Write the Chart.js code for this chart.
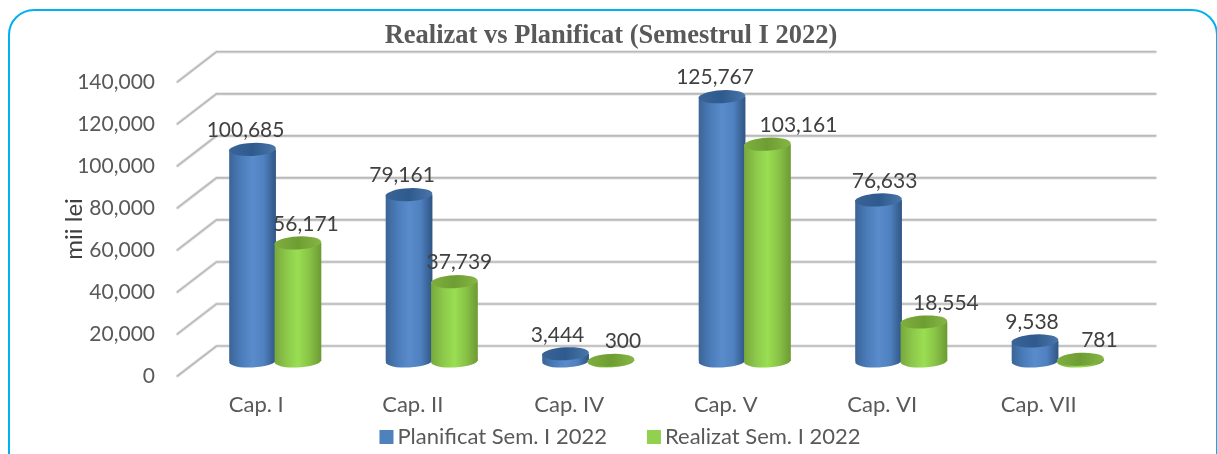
<!DOCTYPE html>
<html><head><meta charset="utf-8">
<style>
html,body{margin:0;padding:0;background:#fff;width:1217px;height:454px;overflow:hidden}
#frame{position:absolute;left:8px;top:9px;width:1206px;height:470px;border:2px solid #00b0f0;border-radius:26px}
#wrap{position:absolute;left:0;top:0;width:1217px;height:454px}
</style>
<script src="https://cdn.jsdelivr.net/npm/chart.js@4/dist/chart.umd.min.js"></script>
</head><body>
<div id="frame"></div>
<div id="wrap"><canvas id="c" width="1217" height="454"></canvas></div>
<script>
const categories = ["Cap. I","Cap. II","Cap. IV","Cap. V","Cap. VI","Cap. VII"];
const planificat = [100685,79161,3444,125767,76633,9538];
const realizat = [56171,37739,300,103161,18554,781];

const planNudge = [-7,-7,-8,-7,6,-3];
const realNudge = [8,5,12,31,22,19];
const BACK = 39, RISE = 15, RY = 6.5, TILT = -0.05;
const styles = [
  {flat:'#4f81bd', cap:['#3a6496','#2f5a8e','#4a76ab'], stops:['#3b6496','#4a7cba','#5a8ccb','#4f80bf','#2f5583'], nudge:planNudge},
  {flat:'#92d050', cap:['#7fae3f','#6e9e33','#86b644'], stops:['#78a83c','#8cc84a','#9ade52','#88c246','#6c9a33'], nudge:realNudge}
];
const fmt = v => Number(v).toLocaleString('en-US');

function gradientFor(chart, i, x, w){
  const g = chart.ctx.createLinearGradient(x-w/2,0,x+w/2,0);
  styles[i].stops.forEach((c,k)=>g.addColorStop([0,.25,.5,.75,1][k],c));
  return g;
}
function fillFor(i){
  return c => {
    if (c.dataIndex === undefined || !c.chart.scales.x) return styles[i].flat;
    const sc = c.chart.scales.x, cw = sc.width/categories.length, w = cw*.58*1.03/2;
    const x = sc.getPixelForTick(c.dataIndex) + (i===0?-1:1)*cw*.58/4;
    return gradientFor(c.chart,i,x,w);
  };
}

const scene = {
  id:'scene',
  afterLayout(chart){
    const t = chart.titleBlock, l = chart.legend;
    t.left += 43; t.right += 43;
    l.left += 52; l.right += 52;
    l.top = 386; l.bottom = 454;
    chart.scales.x.bottom = 454;
  },
  beforeDatasetsDraw(chart){
    const ctx = chart.ctx, y = chart.scales.y, a = chart.chartArea;
    const back = a.left + BACK/2, backR = a.right + BACK/2, front = a.left - BACK/2;
    ctx.save();
    ctx.lineCap='round';
    y.ticks.forEach((t,i)=>{
      const p = y.getPixelForTick(i);
      [[3.2,'#e2e2e2'],[1.6,'#bababa']].forEach(([lw,col])=>{
        ctx.lineWidth=lw; ctx.strokeStyle=col;
        ctx.beginPath();
        ctx.moveTo(front,p+RISE); ctx.lineTo(back,p-RISE); ctx.lineTo(backR,p-RISE);
        ctx.stroke();
      });
    });
    ctx.restore();
    chart.data.datasets.forEach((d,i)=>{
      const meta = chart.getDatasetMeta(i);
      meta.data.forEach(b=>{
        ctx.save();
        ctx.fillStyle = gradientFor(chart,i,b.x,b.width);
        ctx.beginPath(); ctx.ellipse(b.x,b.base,b.width/2,RY,TILT,0,Math.PI*2); ctx.fill();
        ctx.restore();
      });
      meta.controller.draw();
      meta.data.forEach(b=>{
        ctx.save();
        const g = ctx.createLinearGradient(b.x-b.width/2,0,b.x+b.width/2,0);
        styles[i].cap.forEach((c,k)=>g.addColorStop(k/2,c));
        ctx.fillStyle = g;
        ctx.beginPath(); ctx.ellipse(b.x,b.y,b.width/2,RY,TILT,0,Math.PI*2); ctx.fill();
        ctx.restore();
      });
    });
    chart.data.datasets.forEach((d,i)=>{
      chart.getDatasetMeta(i).data.forEach((b,k)=>{
        ctx.save();
        ctx.font='21px Lato'; ctx.fillStyle='#404040';
        ctx.textAlign='center'; ctx.textBaseline='middle';
        ctx.fillText(fmt(d.data[k]), b.x+styles[i].nudge[k], b.y-19);
        ctx.restore();
      });
    });
    return false;
  },
  afterDraw(chart){
    const ctx = chart.ctx;
    chart.legend.legendHitBoxes.forEach((h,i)=>{
      ctx.fillStyle = styles[i].flat;
      ctx.fillRect(h.left, h.top+4, 14, 14);
    });
  }
};

new Chart(document.getElementById('c'),{
  type:'bar',
  data:{labels:categories,datasets:[
    {label:'Planificat Sem. I 2022',data:planificat,backgroundColor:fillFor(0)},
    {label:'Realizat Sem. I 2022',data:realizat,backgroundColor:fillFor(1)}
  ]},
  plugins:[scene],
  options:{
    responsive:false,animation:false,
    layout:{padding:{left:0,right:81,top:0,bottom:0}},
    datasets:{bar:{categoryPercentage:.58,barPercentage:1.03}},
    plugins:{
      tooltip:{enabled:false},
      title:{display:true,text:'Realizat vs Planificat (Semestrul I 2022)',color:'#595959',
        font:{family:'"Liberation Serif"',size:26.5,weight:'bold'},padding:{top:20,bottom:15}},
      legend:{position:'bottom',maxHeight:35,labels:{color:'#595959',font:{family:'Lato',size:22},boxWidth:7,boxHeight:14,padding:40,
        generateLabels:c=>c.data.datasets.map((d,i)=>({text:d.label,fillStyle:'rgba(0,0,0,0)',strokeStyle:'rgba(0,0,0,0)',lineWidth:0,datasetIndex:i,fontColor:'#595959'}))}}
    },
    scales:{
      x:{grid:{display:false},border:{display:false},
        ticks:{color:'#595959',font:{family:'Lato',size:22},padding:23,labelOffset:-19,maxRotation:0},
        afterFit:s=>{s.height=58}},
      y:{min:0,max:140000,grid:{display:false},border:{display:false},
        title:{display:true,text:'mii lei',color:'#404040',font:{family:'Lato',size:24},padding:{top:60,bottom:0}},
        ticks:{stepSize:20000,color:'#595959',font:{family:'Lato',size:21},padding:34,labelOffset:15,callback:v=>fmt(v)},
        afterFit:s=>{s.width=197;
          if(!s._wrapped){s._wrapped=true;const o=s.drawTitle;s.drawTitle=function(){const c=this.ctx;c.save();c.translate(0,15);o.call(this);c.restore();};}
        }}
    }
  }
});
</script>
</body></html>
